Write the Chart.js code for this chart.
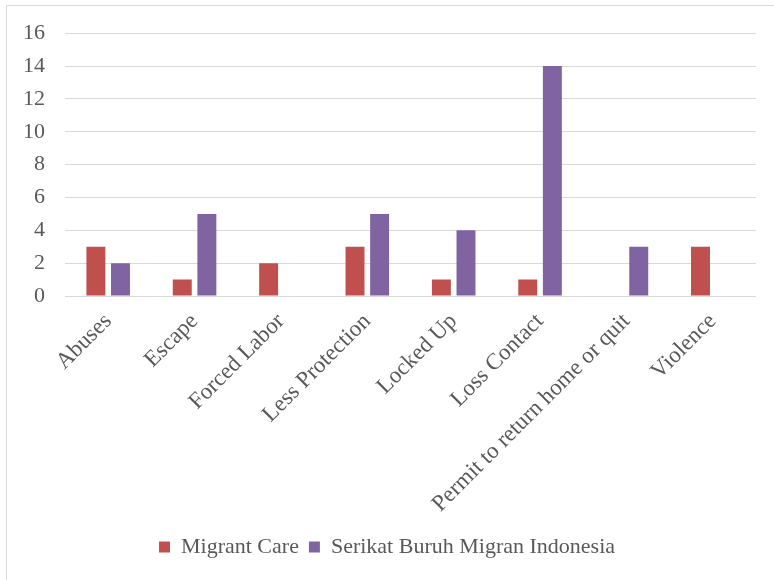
<!DOCTYPE html>
<html>
<head>
<meta charset="utf-8">
<script src="https://cdn.jsdelivr.net/npm/chart.js@4"></script>
<style>
    html, body { margin: 0; padding: 0; background: #fff; overflow: hidden; }
    #frame {
        position: absolute; left: 6px; top: 5px; width: 900px; height: 700px;
        border: 1px solid #d9d9d9; box-sizing: border-box;
    }
    #wrap { position: absolute; left: 0; top: 0; width: 774px; height: 580px; }
</style>
</head>
<body>
<div id="frame"></div>
<div id="wrap"><canvas id="chart"></canvas></div>
<script>
// Categories and series
const categories = ['Abuses', 'Escape', 'Forced Labor', 'Less Protection', 'Locked Up',
    'Loss Contact', 'Permit to return home or quit', 'Violence'];
const migrantCare = [3, 1, 2, 3, 1, 1, null, 3];
const sbmi = [2, 5, null, 5, 4, 14, 3, null];
const yTicks = { min: 0, max: 16, step: 2 };

const serif = '"Liberation Serif", "Times New Roman", serif';
const textColor = '#595959';

new Chart(document.getElementById('chart'), {
    type: 'bar',
    data: {
        labels: categories,
        datasets: [
            { label: 'Migrant Care', data: migrantCare, backgroundColor: '#c0504d' },
            { label: 'Serikat Buruh Migran Indonesia', data: sbmi, backgroundColor: '#8064a2' }
        ]
    },
    options: {
        responsive: true,
        maintainAspectRatio: false,
        animation: false,
        datasets: { bar: { categoryPercentage: 0.57, barPercentage: 0.77 } },
        layout: { padding: { top: 33, right: 0, bottom: 12, left: 0 } },
        scales: {
            x: {
                grid: { display: false, drawTicks: false },
                border: { display: false },
                ticks: {
                    autoSkip: false, maxRotation: 45, minRotation: 45, padding: 12,
                    color: textColor, font: { family: serif, size: 23 }
                },
                afterFit: (scale) => { scale.height = 230; }
            },
            y: {
                min: yTicks.min, max: yTicks.max,
                grid: { color: '#d9d9d9', lineWidth: 1, drawTicks: false },
                border: { display: false },
                ticks: {
                    stepSize: yTicks.step, padding: 20,
                    color: textColor, font: { family: serif, size: 22 }
                },
                afterFit: (scale) => { scale.width = 65; }
            },
            // empty right-hand spacer so the legend stays centred on the whole frame
            spacer: {
                type: 'linear', position: 'right',
                grid: { display: false, drawTicks: false },
                border: { display: false },
                ticks: { display: false },
                afterFit: (scale) => { scale.width = 18; }
            }
        },
        plugins: {
            tooltip: { enabled: false },
            legend: {
                position: 'bottom',
                labels: {
                    boxWidth: 11, boxHeight: 11, padding: 10,
                    color: textColor, font: { family: serif, size: 22 }
                }
            }
        }
    }
});
</script>
</body>
</html>
